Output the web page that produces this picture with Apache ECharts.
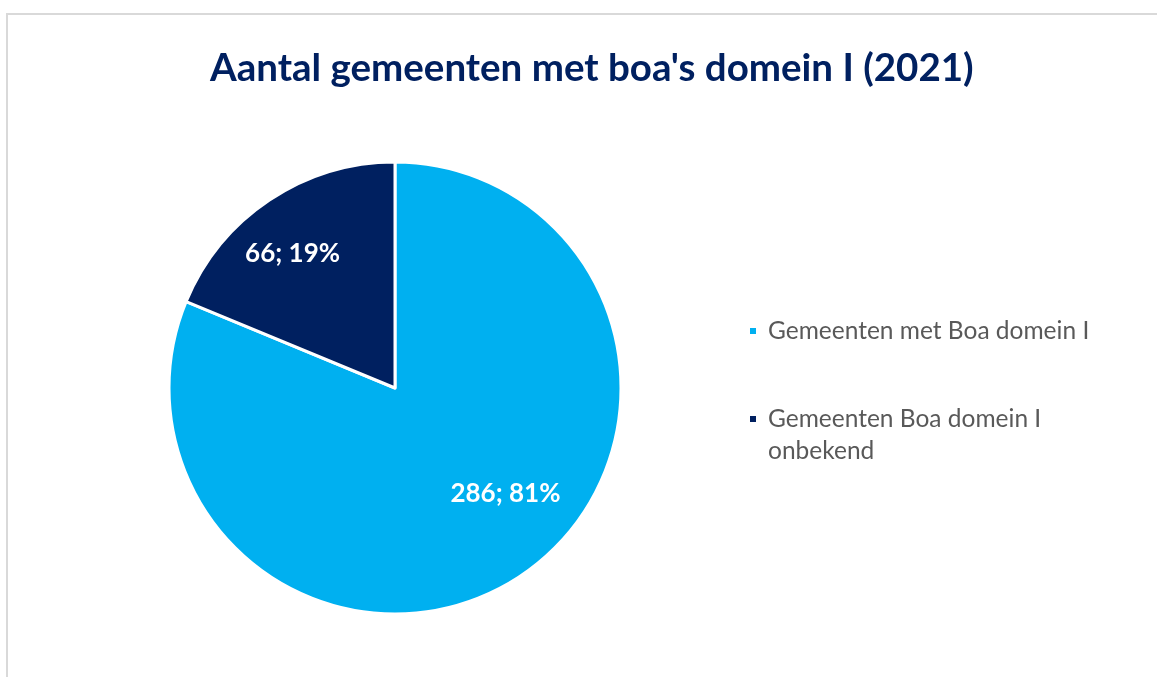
<!DOCTYPE html>
<html>
<head>
<meta charset="utf-8">
<script src="https://cdn.jsdelivr.net/npm/echarts@6/dist/echarts.min.js"></script>
<style>
  html, body { margin: 0; padding: 0; background: #fff; }
  #chart { width: 1157px; height: 677px; }
</style>
</head>
<body>
<div id="chart"></div>
<script>
const titleText = "Aantal gemeenten met boa's domein I (2021)";
const categories = ['Gemeenten met Boa domein I', 'Gemeenten Boa domein I onbekend'];
const counts = [286, 66];
const percents = [81, 19];
const colors = ['#00B0F0', '#002060'];
// Excel "best fit" places labels a bit off the slice midpoint
const labelOffsets = [[46, 9], [-38, -38]];

const chart = echarts.init(document.getElementById('chart'));

const pieData = categories.map((name, i) => ({
  name: name,
  value: counts[i],
  itemStyle: { color: colors[i] },
  label: { offset: labelOffsets[i] }
}));

chart.setOption({
  animation: false,
  title: {
    text: titleText,
    left: 205,
    top: 44,
    textStyle: { fontFamily: 'Lato', fontWeight: 'bold', fontSize: 38.5, color: '#002060' }
  },
  legend: {
    orient: 'vertical',
    left: 743,
    top: 310,
    itemWidth: 8,
    itemHeight: 8,
    itemGap: 24,
    icon: 'rect',
    data: categories,
    // the wrapped entry gets an empty first line so the icon sits level with its first text line
    formatter: name => (name === categories[1] ? '\n' + name : name),
    textStyle: {
      fontFamily: 'Lato',
      fontSize: 24.5,
      color: '#595959',
      lineHeight: 32,
      width: 340,
      overflow: 'break',
      padding: [0, 0, 0, 6]
    }
  },
  graphic: [{
    type: 'polyline',
    shape: { points: [[7, 677], [7, 14], [1157, 14]] },
    style: { stroke: '#D9D9D9', lineWidth: 2, fill: null },
    silent: true
  }],
  series: [{
    type: 'pie',
    center: [395, 388],
    radius: [0, 226],
    startAngle: 90,
    clockwise: true,
    data: pieData,
    itemStyle: { borderColor: '#fff', borderWidth: 3 },
    label: {
      show: true,
      position: 'inside',
      fontFamily: 'Lato',
      fontWeight: 'bold',
      fontSize: 26,
      color: '#fff',
      formatter: p => counts[p.dataIndex] + '; ' + percents[p.dataIndex] + '%'
    },
    labelLine: { show: false },
    emphasis: { disabled: true }
  }]
});
</script>
</body>
</html>
